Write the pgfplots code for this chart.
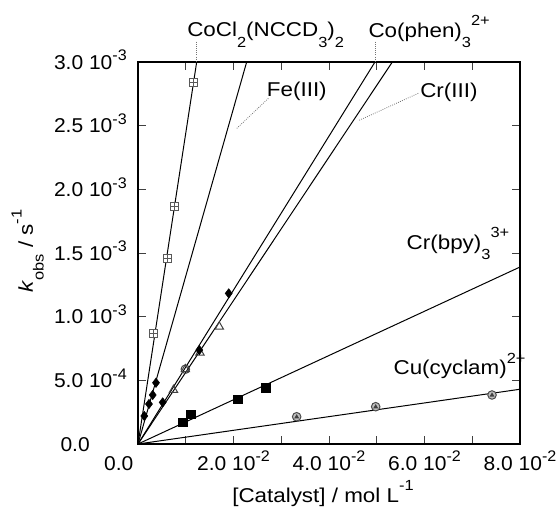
\documentclass[border=0pt]{standalone}
\usepackage{fontspec}
\setmainfont{Liberation Sans}[FakeStretch=1.12]
\newfontfamily\tickfont{Liberation Sans}[FakeStretch=1.05]
\usepackage{pgfplots}
\pgfplotsset{compat=1.18}

% raised / lowered indices as set in the chart labels
\newcommand{\lsub}[1]{\raisebox{-8pt}{\fontsize{11}{11}\selectfont #1}}
\newcommand{\lsup}[1]{\raisebox{8.5pt}{\fontsize{11}{11}\selectfont #1}}
\newcommand{\tsup}[1]{\raisebox{6.2pt}{\fontsize{11.5}{11.5}\selectfont #1}}

% square with a cross inside
\pgfdeclareplotmark{sqplus}{%
  \pgfpathrectangle{\pgfqpoint{-\pgfplotmarksize}{-\pgfplotmarksize}}%
                   {\pgfqpoint{2\pgfplotmarksize}{2\pgfplotmarksize}}%
  \pgfusepathqfillstroke
  \pgfpathmoveto{\pgfqpoint{-\pgfplotmarksize}{0pt}}%
  \pgfpathlineto{\pgfqpoint{\pgfplotmarksize}{0pt}}%
  \pgfpathmoveto{\pgfqpoint{0pt}{-\pgfplotmarksize}}%
  \pgfpathlineto{\pgfqpoint{0pt}{\pgfplotmarksize}}%
  \pgfusepathqstroke}
% circle with a small dark triangle inside
\pgfdeclareplotmark{circtri}{%
  \pgfpathcircle{\pgfpointorigin}{\pgfplotmarksize}%
  \pgfusepathqfillstroke
  \begin{pgfscope}%
  \pgfsetfillcolor{black!75}%
  \pgfpathmoveto{\pgfqpoint{0pt}{0.6\pgfplotmarksize}}%
  \pgfpathlineto{\pgfqpoint{0.6\pgfplotmarksize}{-0.4\pgfplotmarksize}}%
  \pgfpathlineto{\pgfqpoint{-0.6\pgfplotmarksize}{-0.4\pgfplotmarksize}}%
  \pgfpathclose
  \pgfusepathqfill
  \end{pgfscope}}

\pgfplotstableread{
x        y
0.00328  0.000865
0.00622  0.001458
0.00760  0.001864
0.01166  0.002840
}\cocl
\pgfplotstableread{
x        y
0.00132  0.000220
0.00230  0.000314
0.00308  0.000385
0.00377  0.000481
}\fe
\pgfplotstableread{
x        y
0.00517  0.000327
0.01284  0.000738
0.01900  0.001183
}\cophen
\pgfplotstableread{
x        y
0.00743  0.000424
0.00991  0.000587
0.01298  0.000717
0.01703  0.000921
}\crthree
\pgfplotstableread{
x        y
0.00936  0.000169
0.01110  0.000233
0.02088  0.000351
0.02674  0.000442
}\crbpy
\pgfplotstableread{
x        y
0.03323  0.000214
0.04978  0.000293
0.07414  0.000385
}\cucyclam

\begin{document}
\begin{tikzpicture}
\useasboundingbox (-103.5pt,-46.5pt) rectangle (315.75pt,333pt);
\begin{axis}[
  scale only axis,
  width=286.5pt, height=286.5pt,
  xmin=0, xmax=0.08, ymin=0, ymax=0.003,
  clip=false,
  scaled ticks=false,
  xtick={0,0.02,0.04,0.06,0.08},
  minor xtick={0.01,0.03,0.05,0.07},
  xticklabels={\makebox[0pt]{0.0\hspace{28.8pt}}, 2.0 10\tsup{-2}, 4.0 10\tsup{-2}, 6.0 10\tsup{-2}, 8.0 10\tsup{-2}},
  ytick={0,0.0005,0.001,0.0015,0.002,0.0025,0.003},
  yticklabels={0.0\hspace*{27.75pt}, 5.0 10\tsup{-4}, 1.0 10\tsup{-3}, 1.5 10\tsup{-3}, 2.0 10\tsup{-3}, 2.5 10\tsup{-3}, 3.0 10\tsup{-3}},
  tick align=inside,
  major tick length=6pt, minor tick length=6pt,
  every tick/.style={black!75, line width=0.6pt},
  axis line style={line width=1.1pt},
  xticklabel style={anchor=base, inner sep=0pt, yshift=-19.5pt, font=\tickfont\fontsize{15}{18}\selectfont},
  yticklabel style={anchor=base east, inner sep=0pt, xshift=-8.25pt, yshift=-5.4pt, font=\tickfont\fontsize{15}{18}\selectfont},
]
% fitted lines through the origin
\addplot[black, line width=0.75pt] coordinates {(0,0) (0.01229,0.003)};
\addplot[black, line width=0.75pt] coordinates {(0,0) (0.02276,0.003)};
\addplot[black, line width=0.75pt] coordinates {(0,0) (0.04963,0.003)};
\addplot[black, line width=0.75pt] coordinates {(0,0) (0.05326,0.003)};
\addplot[black, line width=0.75pt] coordinates {(0,0) (0.08,0.00139)};
\addplot[black, line width=0.75pt] coordinates {(0,0) (0.08,0.00043)};

% measured rate constants
\addplot[only marks, mark=sqplus, mark size=3pt,
  mark options={draw=black!65, fill=white, line width=0.75pt}] table {\cocl};
\addplot[only marks, mark=diamond*, mark size=3.5pt,
  mark options={draw=black, fill=black}] table {\fe};
\addplot[only marks, mark=triangle, mark size=3.6pt,
  mark options={draw=black!75, fill=white, line width=0.75pt}] table {\crthree};
\addplot[only marks, mark=o, mark size=3.2pt,
  mark options={draw=black!75, line width=0.75pt}] coordinates {(0.00991,0.000587)};
\addplot[only marks, mark=diamond*, mark size=3.5pt,
  mark options={draw=black, fill=black}] table {\cophen};
\addplot[only marks, mark=square*, mark size=3.2pt,
  mark options={draw=black, fill=black}] table {\crbpy};
\addplot[only marks, mark=circtri, mark size=3.2pt,
  mark options={draw=black!70, fill=black!25, line width=0.75pt}] table {\cucyclam};

% leader lines
\draw[densely dotted, black!55, line width=0.6pt] (axis cs:0.01229,0.00316) -- (axis cs:0.01229,0.003);
\draw[densely dotted, black!55, line width=0.6pt] (axis cs:0.04963,0.00316) -- (axis cs:0.04963,0.003);
\draw[densely dotted, black!55, line width=0.6pt] (axis cs:0.02729,0.002714) -- (axis cs:0.02067,0.002478);
\draw[densely dotted, black!55, line width=0.6pt] (axis cs:0.05869,0.002754) -- (axis cs:0.04614,0.002539);

% series labels
\begin{scope}[every node/.style={inner sep=0pt, anchor=base west, font=\fontsize{15}{18}\selectfont}]
\node at (axis cs:0.01026,0.003199) {CoCl\lsub{2}(NCCD\lsub{3})\lsub{2}};
\node at (axis cs:0.04823,0.003194) {Co(phen)\lsub{3}\lsup{2+}};
\node at (axis cs:0.02695,0.002727) {Fe(III)};
\node at (axis cs:0.05906,0.002723) {Cr(III)};
\node at (axis cs:0.05622,0.001529) {Cr(bpy)\lsub{3}\lsup{3+}};
\node at (axis cs:0.05347,0.000542) {Cu(cyclam)\lsup{2+}};
% axis titles
\node at (axis cs:0.01969,-0.0004555) {[Catalyst] / mol L\lsup{-1}};
\node[rotate=90] at (axis cs:-0.02199,0.001186) {\textit{k}\lsub{obs} / s\lsup{-1}};
\end{scope}
\end{axis}
\end{tikzpicture}
\end{document}
